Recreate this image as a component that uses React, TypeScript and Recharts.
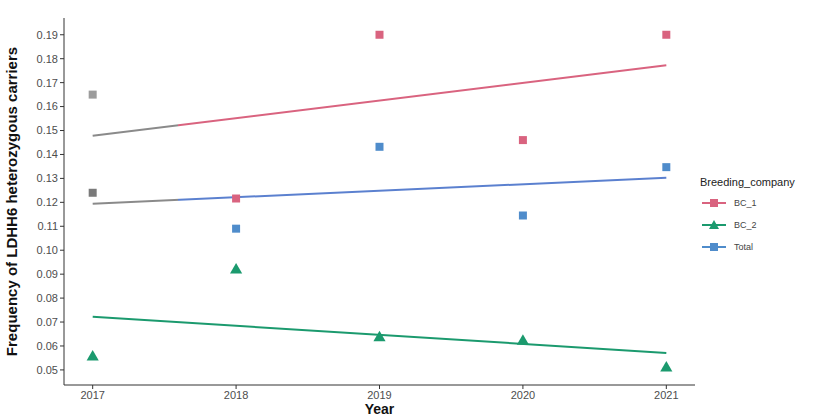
import {
  ComposedChart,
  Scatter,
  Line,
  XAxis,
  YAxis,
  Label,
  Cell,
} from "recharts";

// years and point values
const years = [2017, 2018, 2019, 2020, 2021];
const bc1 = [0.165, 0.1216, 0.19, 0.146, 0.19];
const bc2 = [0.0554, 0.0917, 0.0634, 0.062, 0.0508];
const total = [0.124, 0.109, 0.1432, 0.1145, 0.1347];

// fitted trend lines, endpoints at 2017 and 2021
const fitYears = [2017, 2021];
const fitBc1 = [0.1478, 0.1773];
const fitBc2 = [0.0722, 0.0571];
const fitTotal = [0.1194, 0.1303];

const yTicks = [0.05, 0.06, 0.07, 0.08, 0.09, 0.1, 0.11, 0.12, 0.13, 0.14, 0.15, 0.16, 0.17, 0.18, 0.19];

const C_BC1 = "#d9637f";
const C_BC2 = "#1b9a6e";
const C_TOTAL = "#4f8ccb";
const C_GREY = "#8a8a8a";
const FONT = "Liberation Sans, Arial, sans-serif";

const toPoints = (vals: number[]) => vals.map((v, i) => ({ year: years[i], v }));
const toFit = (vals: number[]) => vals.map((v, i) => ({ year: fitYears[i], v }));

const legendItems = [
  { name: "BC_1", color: C_BC1, shape: "square" },
  { name: "BC_2", color: C_BC2, shape: "triangle" },
  { name: "Total", color: C_TOTAL, shape: "square" },
];

const LegendBox = () => (
  <div style={{ position: "absolute", left: 700, top: 176, fontFamily: FONT, color: "#222" }}>
    <div style={{ fontSize: 11, marginBottom: 4 }}>Breeding_company</div>
    {legendItems.map((it) => (
      <div key={it.name} style={{ display: "flex", alignItems: "center", height: 22 }}>
        <svg width={28} height={16}>
          <line x1={2} y1={8} x2={26} y2={8} stroke={it.color} strokeWidth={2} />
          {it.shape === "square" ? (
            <rect x={10} y={4} width={8} height={8} fill={it.color} />
          ) : (
            <polygon points="14,3 19,12 9,12" fill={it.color} />
          )}
        </svg>
        <span style={{ fontSize: 9, marginLeft: 6, color: "#444" }}>{it.name}</span>
      </div>
    ))}
  </div>
);

export default function App() {
  const tickStyle = { fontSize: 11, fill: "#4d4d4d", fontFamily: FONT };
  return (
    <div style={{ position: "absolute", left: 0, top: 0, width: 825, height: 416, background: "#fff" }}>
      <ComposedChart
        width={825}
        height={416}
        margin={{ top: 18, right: 130, bottom: 0, left: 0 }}
      >
        <defs>
          <linearGradient id="gBc1" x1="0" y1="0" x2="1" y2="0">
            <stop offset="0.148" stopColor={C_GREY} />
            <stop offset="0.148" stopColor={C_BC1} />
          </linearGradient>
          <linearGradient id="gTotal" x1="0" y1="0" x2="1" y2="0">
            <stop offset="0.148" stopColor={C_GREY} />
            <stop offset="0.148" stopColor="#5b80cf" />
          </linearGradient>
        </defs>
        <XAxis
          dataKey="year"
          type="number"
          domain={[2016.8, 2021.2]}
          ticks={years}
          allowDuplicatedCategory={false}
          height={31}
          tick={tickStyle}
          tickSize={4}
          stroke="#333"
          tickLine={{ stroke: "#333" }}
        >
          <Label
            value="Year"
            position="insideBottom"
            offset={2}
            style={{ fontSize: 14, fontWeight: "bold", fill: "#111", fontFamily: FONT }}
          />
        </XAxis>
        <YAxis
          dataKey="v"
          type="number"
          domain={[0.0437, 0.197]}
          ticks={yTicks}
          tickFormatter={(v: number) => v.toFixed(2)}
          width={64}
          tick={tickStyle}
          tickSize={4}
          stroke="#333"
          tickLine={{ stroke: "#333" }}
        >
          <Label
            value="Frequency of LDHH6 heterozygous carriers"
            angle={-90}
            position="insideLeft"
            offset={12}
            style={{ textAnchor: "middle", fontSize: 15, fontWeight: "bold", fill: "#111", fontFamily: FONT }}
          />
        </YAxis>
        <Line data={toFit(fitBc1)} dataKey="v" stroke="url(#gBc1)" strokeWidth={2} dot={false} isAnimationActive={false} legendType="none" />
        <Line data={toFit(fitTotal)} dataKey="v" stroke="url(#gTotal)" strokeWidth={2} dot={false} isAnimationActive={false} legendType="none" />
        <Line data={toFit(fitBc2)} dataKey="v" stroke={C_BC2} strokeWidth={2} dot={false} isAnimationActive={false} legendType="none" />
        <Scatter data={toPoints(bc1)} dataKey="v" shape="square" fill={C_BC1} isAnimationActive={false}>
          {bc1.map((_, i) => (
            <Cell key={`b1-${i}`} fill={i === 0 ? "#9c9c9c" : C_BC1} />
          ))}
        </Scatter>
        <Scatter data={toPoints(total)} dataKey="v" shape="square" fill={C_TOTAL} isAnimationActive={false}>
          {total.map((_, i) => (
            <Cell key={`t-${i}`} fill={i === 0 ? "#7a7a7a" : C_TOTAL} />
          ))}
        </Scatter>
        <Scatter data={toPoints(bc2)} dataKey="v" shape="triangle" fill={C_BC2} isAnimationActive={false} />
      </ComposedChart>
      <LegendBox />
    </div>
  );
}
